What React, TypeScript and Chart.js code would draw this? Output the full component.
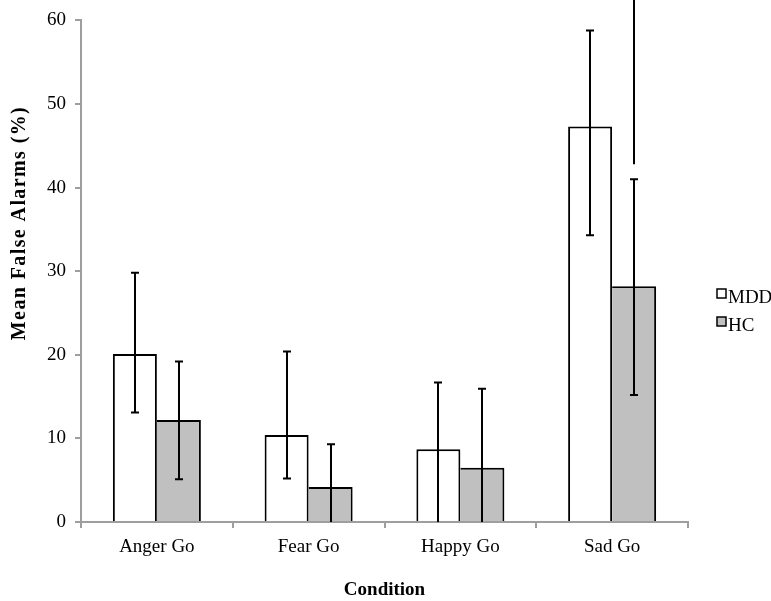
import React, { useEffect, useRef } from "react";
import { Chart, registerables } from "chart.js";

Chart.register(...registerables);

const categories = ["Anger Go", "Fear Go", "Happy Go", "Sad Go"];
const seriesNames = ["MDD", "HC"];
const mddValues = [20.1, 10.4, 8.7, 47.3];
const hcValues = [12.2, 4.2, 6.5, 28.2];
const mddUpper = [29.8, 20.4, 16.7, 58.8];
const mddLower = [13.1, 5.2, -2, 34.3];
const hcUpper = [19.2, 9.3, 15.95, 41.0];
const hcLower = [5.1, -2, -2, 15.2];
// stray vertical marker above Sad Go HC (value range)
const markerCategory = 3;
const markerRange = [42.8, 66];
const yTicks = [0, 10, 20, 30, 40, 50, 60];

const FONT = "'Liberation Serif', 'Times New Roman', serif";

export default function App() {
  const ref = useRef<HTMLCanvasElement | null>(null);
  useEffect(() => {
    const canvas = ref.current!;
    const errorPlugin = {
      id: "errbars",
      afterDatasetsDraw(chart: any) {
        const ctx = chart.ctx;
        const y = chart.scales.y;
        const area = chart.chartArea;
        const sets = [
          { up: mddUpper, lo: mddLower, meta: chart.getDatasetMeta(0) },
          { up: hcUpper, lo: hcLower, meta: chart.getDatasetMeta(1) },
        ];
        ctx.save();
        ctx.beginPath();
        ctx.rect(area.left, 0, area.right - area.left, area.bottom);
        ctx.clip();
        ctx.strokeStyle = "#000";
        ctx.lineWidth = 2;
        sets.forEach((s) => {
          s.meta.data.forEach((bar: any, i: number) => {
            const x = Math.round(bar.x);
            const yu = y.getPixelForValue(s.up[i]);
            const yl = y.getPixelForValue(s.lo[i]);
            ctx.beginPath();
            ctx.moveTo(x, yu);
            ctx.lineTo(x, Math.min(yl, area.bottom));
            ctx.moveTo(x - 4, yu);
            ctx.lineTo(x + 4, yu);
            if (s.lo[i] > 0) {
              ctx.moveTo(x - 4, yl);
              ctx.lineTo(x + 4, yl);
            }
            ctx.stroke();
          });
        });
        ctx.restore();
        const mb = chart.getDatasetMeta(1).data[markerCategory];
        ctx.save();
        ctx.strokeStyle = "#000";
        ctx.lineWidth = 2;
        ctx.beginPath();
        const mx = Math.round(mb.x);
        ctx.moveTo(mx, y.getPixelForValue(markerRange[0]));
        ctx.lineTo(mx, y.getPixelForValue(markerRange[1]));
        ctx.stroke();
        ctx.restore();
      },
      afterDraw(chart: any) {
        const ctx = chart.ctx;
        ctx.save();
        ctx.translate(20, 223);
        ctx.rotate(-Math.PI / 2);
        ctx.font = `bold 20px ${FONT}`;
        (ctx as any).letterSpacing = "1.4px";
        ctx.fillStyle = "#000";
        ctx.textAlign = "center";
        ctx.textBaseline = "middle";
        ctx.fillText("Mean False Alarms (%)", 0, 0);
        ctx.restore();
        ctx.save();
        ctx.font = `19px ${FONT}`;
        ctx.textBaseline = "alphabetic";
        ctx.textAlign = "left";
        const fills = ["#ffffff", "#c0c0c0"];
        seriesNames.forEach((name, i) => {
          const top = 289 + i * 28;
          ctx.fillStyle = fills[i];
          ctx.fillRect(717, top, 9, 9);
          ctx.strokeStyle = "#000";
          ctx.lineWidth = 1.5;
          ctx.strokeRect(717, top, 9, 9);
          ctx.fillStyle = "#000";
          ctx.fillText(name, 728, top + 14);
        });
        ctx.restore();
      },
    };

    const chart = new Chart(canvas, {
      type: "bar",
      data: {
        labels: categories,
        datasets: [
          {
            label: seriesNames[0],
            data: mddValues,
            backgroundColor: "#ffffff",
            borderColor: "#000000",
            borderWidth: { top: 2, left: 2, right: 2, bottom: 0 },
            borderSkipped: false,
            categoryPercentage: 0.58,
            barPercentage: 1,
          },
          {
            label: seriesNames[1],
            data: hcValues,
            backgroundColor: "#c0c0c0",
            borderColor: "#000000",
            borderWidth: { top: 2, left: 0, right: 2, bottom: 0 },
            borderSkipped: false,
            categoryPercentage: 0.58,
            barPercentage: 1,
          },
        ],
      },
      options: {
        responsive: false,
        animation: false,
        layout: { padding: { top: 15, right: 83, left: 0, bottom: 0 } },
        plugins: { legend: { display: false }, tooltip: { enabled: false } },
        scales: {
          x: {
            afterFit: (s: any) => {
              s.height = 79;
            },
            grid: {
              offset: true,
              drawOnChartArea: false,
              tickLength: 6,
              color: "#9e9e9e",
              lineWidth: 2,
            },
            border: { color: "#9e9e9e", width: 2 },
            ticks: {
              color: "#000",
              font: { family: FONT, size: 19 },
              padding: 8,
            },
            title: {
              display: true,
              text: "Condition",
              color: "#000",
              font: { family: FONT, size: 19, weight: "bold" },
              padding: { top: 0, bottom: 0 },
            },
          },
          y: {
            min: 0,
            max: 60,
            afterFit: (s: any) => {
              s.width = 81;
            },
            afterBuildTicks: (s: any) => {
              s.ticks = yTicks.map((v) => ({ value: v }));
            },
            grid: {
              drawOnChartArea: false,
              tickLength: 6,
              color: "#9e9e9e",
              lineWidth: 2,
            },
            border: { color: "#9e9e9e", width: 2 },
            ticks: {
              color: "#000",
              font: { family: FONT, size: 19 },
              padding: 9,
            },
          },
        },
      },
      plugins: [errorPlugin],
    } as any);
    return () => chart.destroy();
  }, []);
  return (
    <div style={{ position: "absolute", left: 0, top: 0, width: 771, height: 601, background: "#fff" }}>
      <canvas ref={ref} width={771} height={601} style={{ display: "block" }} />
    </div>
  );
}
